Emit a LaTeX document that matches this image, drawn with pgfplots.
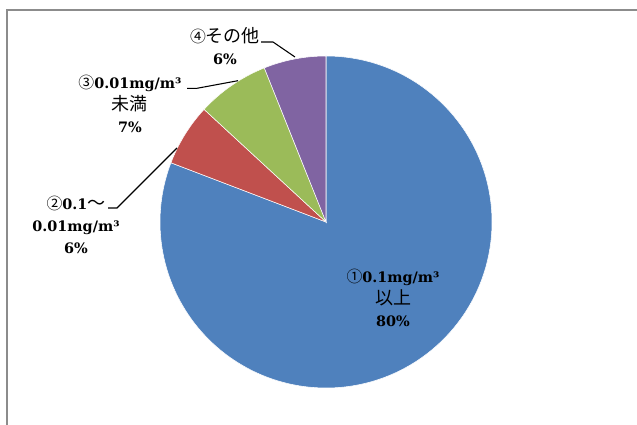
\documentclass[border=0pt]{standalone}
\usepackage{pgfplots}
\pgfplotsset{compat=1.18}
\usepackage{pgfplotstable}
\usepackage{fontspec}
\setmainfont{DejaVu Serif}
\newfontfamily\jpfam[Scale=1.25]{Noto Sans CJK JP}
\newfontfamily\jpcfam[Scale=1.1]{Noto Sans CJK JP}
\newcommand\jp{\jpfam\mdseries}
\newcommand\jpc{\jpcfam\mdseries}
\definecolor{pieblue}{HTML}{4F81BD}
\definecolor{piered}{HTML}{C0504D}
\definecolor{piegreen}{HTML}{9BBB59}
\definecolor{piepurple}{HTML}{8064A2}
\definecolor{framegray}{HTML}{8C8C8C}

% share of each class, in percent
\pgfplotstableread{
share colour
80 pieblue
6  piered
7  piegreen
6  piepurple
}\piedata

\newcommand\lbl{\fontsize{10.8}{16.8}\selectfont\bfseries}

\begin{document}
\begin{tikzpicture}
\begin{axis}[
  at={(0,0)}, anchor=origin,
  x=0.75pt, y=0.75pt,
  xmin=0, xmax=637, ymin=0, ymax=425,
  hide axis, clip=false,
]
% sum of the shares
\pgfplotstablegetrowsof{\piedata}
\pgfmathtruncatemacro{\lastrow}{\pgfplotsretval-1}
\gdef\pietotal{0}
\pgfplotsforeachungrouped \i in {0,...,\lastrow}{%
  \pgfplotstablegetelem{\i}{share}\of\piedata
  \pgfmathsetmacro{\tmpsum}{\pietotal+\pgfplotsretval}%
  \xdef\pietotal{\tmpsum}}
% slices, clockwise from twelve o'clock
\gdef\piecum{0}
\pgfplotsforeachungrouped \i in {0,...,\lastrow}{%
  \pgfplotstablegetelem{\i}{share}\of\piedata \let\sliceval\pgfplotsretval
  \pgfplotstablegetelem{\i}{colour}\of\piedata \let\slicecol\pgfplotsretval
  \pgfmathsetmacro{\sa}{90-(\piecum/\pietotal)*360}%
  \pgfmathsetmacro{\ea}{90-((\piecum+\sliceval)/\pietotal)*360}%
  \edef\slice{\noexpand\fill[\slicecol, draw=white, line width=0.4pt]
    (axis cs:326,203) -- ++(\sa:124.5pt)
    arc[start angle=\sa, end angle=\ea, radius=124.5pt] -- cycle;}%
  \slice
  \pgfmathsetmacro{\tmpsum}{\piecum+\sliceval}%
  \xdef\piecum{\tmpsum}}

% chart frame
\draw[framegray, line width=1.4pt] (axis cs:7,0) -- (axis cs:7,415) -- (axis cs:637,415);

% leader lines
\draw[black, line width=0.8pt] (axis cs:261,383) -- (axis cs:273,383) -- (axis cs:295,368);
\draw[black, line width=0.8pt] (axis cs:187,336.7) -- (axis cs:197,336.7) -- (axis cs:238,344.3);
\draw[black, line width=0.8pt] (axis cs:108,217) -- (axis cs:117,217) -- (axis cs:177,277);

% labels
\node[align=center, font=\lbl] at (axis cs:393,127)
  {{\jpc ①}0.1mg/m³\\{\jp 以上}\\80\%};
\node[align=center, font=\lbl] at (axis cs:76,200)
  {{\jpc ②}0.1{\jp ～}\\0.01mg/m³\\6\%};
\node[align=center, font=\lbl] at (axis cs:130,321)
  {{\jpc ③}0.01mg/m³\\{\jp 未満}\\7\%};
\node[align=center, font=\lbl] at (axis cs:225,379)
  {{\jpc ④}{\jp その他}\\6\%};
\end{axis}
\pgfresetboundingbox
\path[use as bounding box] (0,0) rectangle (477.75pt,318.75pt);
\end{tikzpicture}
\end{document}
